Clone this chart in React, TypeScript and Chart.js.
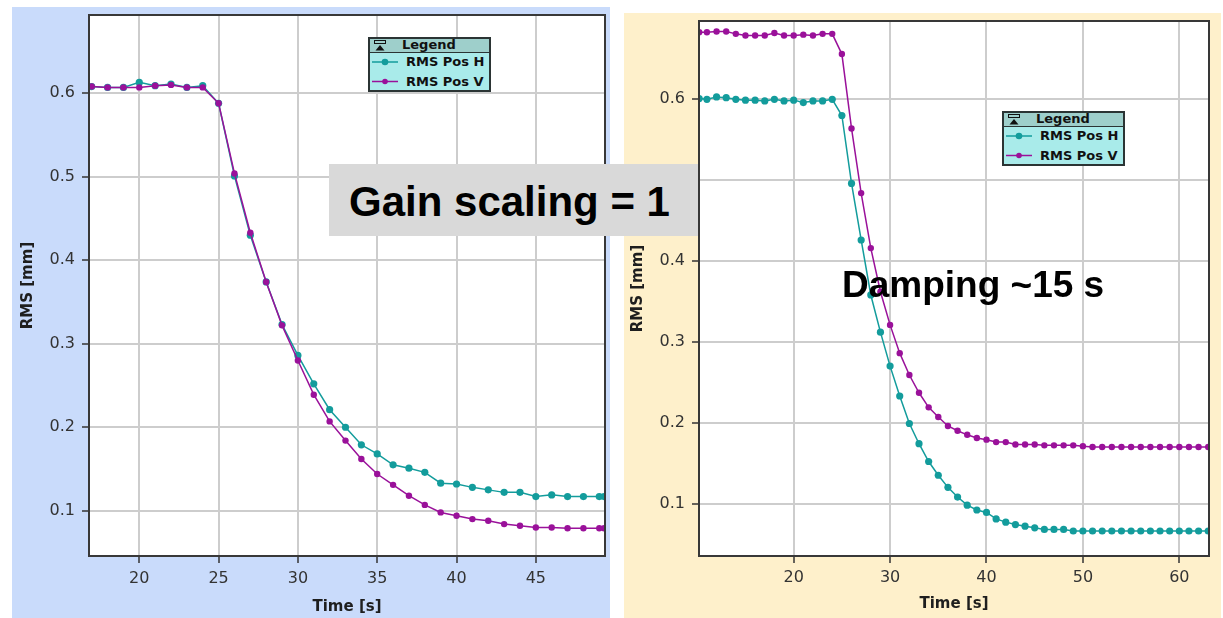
import React, { useEffect, useRef } from 'react';
import { Chart, registerables } from 'chart.js';

Chart.register(...registerables);

// ---------- data ----------
const leftTime = [17, 18, 19, 20, 21, 22, 23, 24, 25, 26, 27, 28, 29, 30, 31, 32, 33, 34, 35, 36, 37, 38, 39, 40, 41, 42, 43, 44, 45, 46, 47, 48, 49, 49.3];
const leftPosH = [0.608, 0.607, 0.607, 0.613, 0.609, 0.611, 0.607, 0.609, 0.588, 0.501, 0.430, 0.374, 0.323, 0.286, 0.252, 0.221, 0.200, 0.179, 0.168, 0.155, 0.151, 0.146, 0.133, 0.132, 0.128, 0.125, 0.122, 0.122, 0.117, 0.119, 0.117, 0.117, 0.117, 0.117];
const leftPosV = [0.608, 0.607, 0.607, 0.607, 0.609, 0.610, 0.607, 0.607, 0.588, 0.504, 0.433, 0.374, 0.322, 0.280, 0.239, 0.207, 0.184, 0.162, 0.144, 0.131, 0.118, 0.107, 0.098, 0.094, 0.090, 0.088, 0.084, 0.082, 0.080, 0.080, 0.079, 0.079, 0.079, 0.079];

const rightTime = [10.2, 11, 12, 13, 14, 15, 16, 17, 18, 19, 20, 21, 22, 23, 24, 25, 26, 27, 28, 29, 30, 31, 32, 33, 34, 35, 36, 37, 38, 39, 40, 41, 42, 43, 44, 45, 46, 47, 48, 49, 50, 51, 52, 53, 54, 55, 56, 57, 58, 59, 60, 61, 62, 63];
const rightPosH = [0.601, 0.600, 0.603, 0.602, 0.600, 0.599, 0.599, 0.598, 0.600, 0.598, 0.599, 0.596, 0.598, 0.598, 0.600, 0.580, 0.496, 0.426, 0.358, 0.312, 0.270, 0.233, 0.199, 0.174, 0.152, 0.135, 0.120, 0.108, 0.098, 0.092, 0.089, 0.081, 0.077, 0.074, 0.072, 0.070, 0.068, 0.068, 0.068, 0.066, 0.066, 0.066, 0.066, 0.066, 0.066, 0.066, 0.066, 0.066, 0.066, 0.066, 0.066, 0.066, 0.066, 0.066];
const rightPosV = [0.683, 0.683, 0.684, 0.684, 0.681, 0.679, 0.679, 0.679, 0.682, 0.679, 0.679, 0.680, 0.679, 0.681, 0.681, 0.656, 0.564, 0.484, 0.416, 0.362, 0.321, 0.286, 0.259, 0.237, 0.219, 0.207, 0.196, 0.190, 0.185, 0.181, 0.179, 0.176, 0.176, 0.173, 0.173, 0.173, 0.172, 0.172, 0.172, 0.172, 0.171, 0.170, 0.170, 0.170, 0.170, 0.170, 0.170, 0.170, 0.170, 0.170, 0.170, 0.170, 0.170, 0.170];

const seriesNames = ['RMS Pos H', 'RMS Pos V'];
const xTitle = 'Time [s]';
const yTitle = 'RMS [mm]';
const legendTitle = 'Legend';
const leftNote = 'Gain scaling = 1';
const rightNote = 'Damping ~15 s';

// ---------- styling ----------
const TEAL = '#139c9c';
const MAGENTA = '#9a119a';
const BLUE = '#c9dbfb';
const BEIGE = '#fef0cb';
const FONT = '"DejaVu Sans", Verdana, sans-serif';

const framePlugin = {
  id: 'frameBox',
  beforeDraw(chart: any) {
    const { ctx, chartArea } = chart;
    const { left, top, right, bottom } = chartArea;
    ctx.save();
    ctx.fillStyle = '#ffffff';
    ctx.fillRect(left, top, right - left, bottom - top);
    ctx.restore();
  },
  afterDraw(chart: any) {
    const { ctx, chartArea } = chart;
    const { left, top, right, bottom } = chartArea;
    ctx.save();
    ctx.strokeStyle = '#383838';
    ctx.lineWidth = 2;
    ctx.strokeRect(left, top, right - left, bottom - top);
    ctx.restore();
  },
};

type Cfg = {
  time: number[];
  h: number[];
  v: number[];
  xMin: number;
  xMax: number;
  yMin: number;
  yMax: number;
  xStep: number;
  yWidth: number;
  xHeight: number;
  padTop: number;
  padRight: number;
  yTitlePad: number;
  xTitlePad: number;
  xTickPad: number;
};

function buildChart(canvas: HTMLCanvasElement, cfg: Cfg) {
  const gridOpts = {
    color: '#cdcdcd',
    lineWidth: 2,
    tickLength: 7,
    tickColor: '#333333',
    tickWidth: 1.5,
    drawTicks: true,
  };
  return new Chart(canvas, {
    type: 'line',
    data: {
      datasets: [
        {
          label: seriesNames[1],
          data: cfg.time.map((t, i) => ({ x: t, y: cfg.v[i] })),
          borderColor: MAGENTA,
          backgroundColor: MAGENTA,
          borderWidth: 1.5,
          pointRadius: 3.2,
          pointBorderWidth: 0,
          pointBackgroundColor: MAGENTA,
          tension: 0,
        },
        {
          label: seriesNames[0],
          data: cfg.time.map((t, i) => ({ x: t, y: cfg.h[i] })),
          borderColor: TEAL,
          backgroundColor: TEAL,
          borderWidth: 1.5,
          pointRadius: 3.6,
          pointBorderWidth: 0,
          pointBackgroundColor: TEAL,
          tension: 0,
        },
      ],
    },
    options: {
      responsive: false,
      animation: false,
      events: [],
      layout: { padding: { top: cfg.padTop, right: cfg.padRight, left: 0, bottom: 0 } },
      plugins: {
        legend: { display: false },
        tooltip: { enabled: false },
        title: { display: false },
      },
      scales: {
        x: {
          type: 'linear',
          position: 'bottom',
          min: cfg.xMin,
          max: cfg.xMax,
          border: { display: false },
          grid: gridOpts,
          ticks: {
            stepSize: cfg.xStep,
            includeBounds: false,
            autoSkip: false,
            maxRotation: 0,
            padding: cfg.xTickPad,
            color: '#333333',
            font: { family: FONT, size: 16 },
            callback: (val: any) => String(Math.round(Number(val))),
          },
          title: {
            display: true,
            text: xTitle,
            color: '#1e1e1e',
            font: { family: FONT, size: 15, weight: 'bold' },
            padding: { top: 0, bottom: cfg.xTitlePad },
          },
          afterFit: (s: any) => {
            s.height = cfg.xHeight;
            s.paddingLeft = 0;
            s.paddingRight = 0;
          },
        },
        y: {
          type: 'linear',
          position: 'left',
          min: cfg.yMin,
          max: cfg.yMax,
          border: { display: false },
          grid: gridOpts,
          ticks: {
            stepSize: 0.1,
            includeBounds: false,
            autoSkip: false,
            padding: 7,
            color: '#333333',
            font: { family: FONT, size: 16 },
            callback: (val: any) => Number(val).toFixed(1),
          },
          title: {
            display: true,
            text: yTitle,
            color: '#1e1e1e',
            font: { family: FONT, size: 15, weight: 'bold' },
            padding: { top: cfg.yTitlePad, bottom: 0 },
          },
          afterFit: (s: any) => {
            s.width = cfg.yWidth;
            s.paddingTop = 0;
            s.paddingBottom = 0;
          },
        },
      },
    } as any,
    plugins: [framePlugin],
  });
}

const leftCfg: Cfg = {
  time: leftTime,
  h: leftPosH,
  v: leftPosV,
  xMin: 16.83,
  xMax: 49.36,
  yMin: 0.0458,
  yMax: 0.6937,
  xStep: 5,
  yWidth: 77,
  xHeight: 62,
  padTop: 8,
  padRight: 5,
  yTitlePad: 6.7,
  xTitlePad: 2,
  xTickPad: 6.4,
};

const rightCfg: Cfg = {
  time: rightTime,
  h: rightPosH,
  v: rightPosV,
  xMin: 10.18,
  xMax: 63.08,
  yMin: 0.0351,
  yMax: 0.6969,
  xStep: 10,
  yWidth: 75,
  xHeight: 62,
  padTop: 8,
  padRight: 12,
  yTitlePad: 5.5,
  xTitlePad: 4.5,
  xTickPad: 5.4,
};

function LegendBox({ left, top }: { left: number; top: number }) {
  const border = '#2b3434';
  const rowText = (label: string, cy: number) => (
    <span
      style={{
        position: 'absolute',
        left: 36,
        top: cy - 8,
        lineHeight: '16px',
        whiteSpace: 'nowrap',
      }}
    >
      {label}
    </span>
  );
  return (
    <div
      style={{
        position: 'absolute',
        left,
        top,
        width: 123,
        height: 55,
        boxSizing: 'border-box',
        border: `2px solid ${border}`,
        background: '#a9ebea',
        fontFamily: FONT,
        fontWeight: 'bold',
        fontSize: 13,
        color: '#111111',
      }}
    >
      <div
        style={{
          position: 'absolute',
          left: 0,
          top: 0,
          right: 0,
          height: 13,
          background: '#9ecfcb',
          borderBottom: `1.5px solid ${border}`,
        }}
      >
        <svg style={{ position: 'absolute', left: 3, top: 1 }} width={14} height={12}>
          <rect x={1.5} y={0.5} width={11} height={3} fill="none" stroke="#111" strokeWidth={1} />
          <polygon points="7,5 2.5,10.5 11.5,10.5" fill="#111" />
        </svg>
        <span style={{ position: 'absolute', left: 32, top: -2, lineHeight: '16px' }}>{legendTitle}</span>
      </div>
      <svg style={{ position: 'absolute', left: 2, top: 17 }} width={28} height={32}>
        <line x1={0} y1={6} x2={26} y2={6} stroke={TEAL} strokeWidth={1.5} />
        <circle cx={13} cy={6} r={3.3} fill={TEAL} />
        <line x1={0} y1={25.5} x2={26} y2={25.5} stroke={MAGENTA} strokeWidth={1.5} />
        <circle cx={13} cy={25.5} r={2.8} fill={MAGENTA} />
      </svg>
      {rowText(seriesNames[0], 23)}
      {rowText(seriesNames[1], 42.5)}
    </div>
  );
}

export default function App() {
  const leftRef = useRef<HTMLCanvasElement>(null);
  const rightRef = useRef<HTMLCanvasElement>(null);

  useEffect(() => {
    const c1 = buildChart(leftRef.current as HTMLCanvasElement, leftCfg);
    const c2 = buildChart(rightRef.current as HTMLCanvasElement, rightCfg);
    return () => {
      c1.destroy();
      c2.destroy();
    };
  }, []);

  const noteFont = '"Liberation Sans", Arial, Helvetica, sans-serif';

  return (
    <div
      style={{
        position: 'fixed',
        left: 0,
        top: 0,
        width: 1223,
        height: 618,
        background: '#ffffff',
        overflow: 'hidden',
      }}
    >
      <div style={{ position: 'absolute', left: 12, top: 7, width: 598, height: 611, background: BLUE }}>
        <canvas ref={leftRef} width={598} height={611} style={{ display: 'block', width: 598, height: 611 }} />
      </div>
      <div style={{ position: 'absolute', left: 624, top: 13, width: 597, height: 605, background: BEIGE }}>
        <canvas ref={rightRef} width={597} height={605} style={{ display: 'block', width: 597, height: 605 }} />
      </div>

      <LegendBox left={368} top={37} />
      <LegendBox left={1002} top={111} />

      <div style={{ position: 'absolute', left: 329, top: 164, width: 369, height: 72, background: '#d9d9d9' }} />
      <div
        style={{
          position: 'absolute',
          left: 349,
          top: 180.5,
          fontFamily: noteFont,
          fontWeight: 'bold',
          fontSize: 42,
          lineHeight: '42px',
          color: '#000000',
          whiteSpace: 'nowrap',
        }}
      >
        {leftNote}
      </div>
      <div
        style={{
          position: 'absolute',
          left: 842,
          top: 265.7,
          fontFamily: noteFont,
          fontWeight: 'bold',
          fontSize: 37,
          lineHeight: '37px',
          color: '#000000',
          whiteSpace: 'nowrap',
        }}
      >
        {rightNote}
      </div>
    </div>
  );
}
